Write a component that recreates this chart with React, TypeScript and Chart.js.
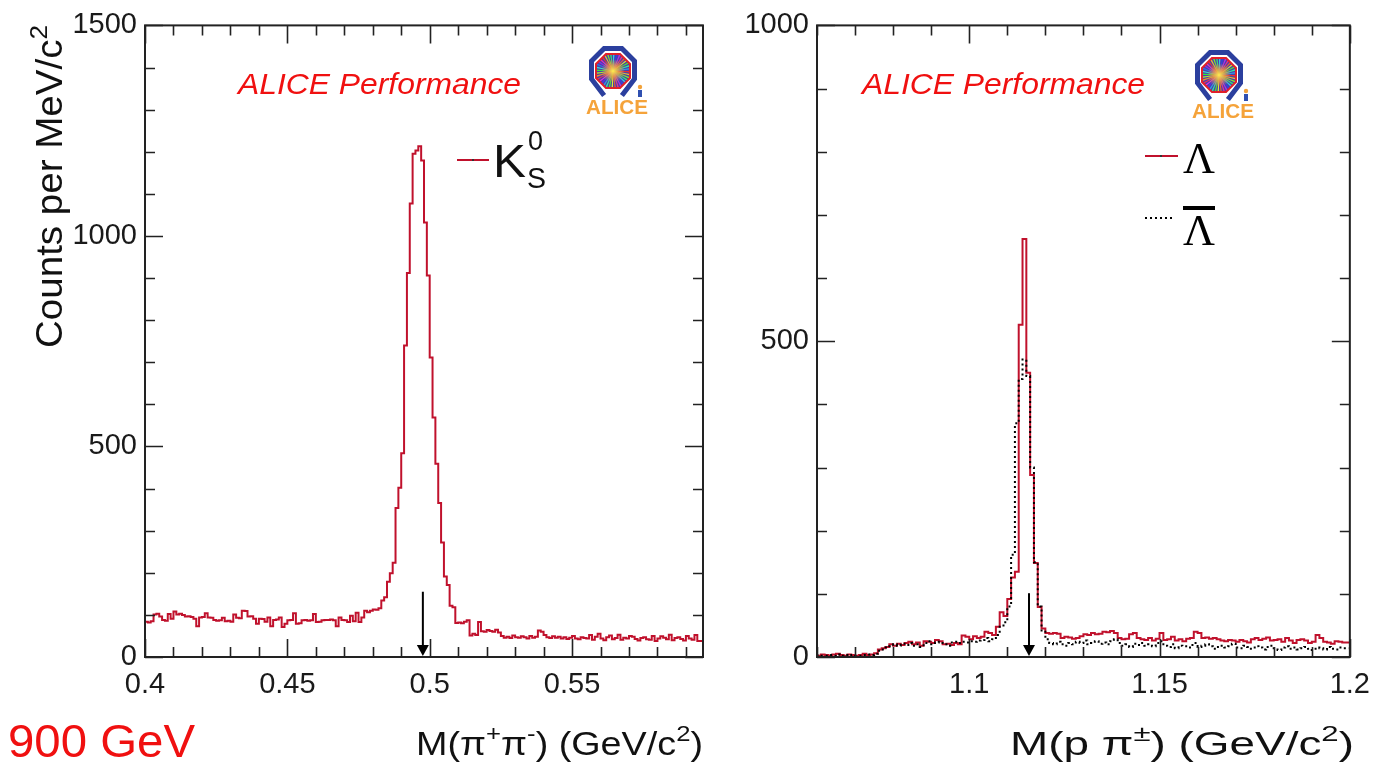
import React, { useEffect, useRef } from 'react';
import { Chart, registerables } from 'chart.js';

Chart.register(...registerables);

// ---------------- DATA ----------------
// K0s: 1 MeV bins from 0.400 to 0.596 GeV/c^2
const K0_BIN_LOW = 0.4;
const K0_BIN_WIDTH = 0.001;
const K0_COUNTS = [
  98, 84, 82, 85, 101, 103, 96, 88, 86, 102,
  91, 108, 101, 103, 100, 96, 97, 95, 91, 73,
  94, 95, 104, 94, 93, 88, 86, 87, 93, 85,
  86, 84, 101, 93, 92, 110, 109, 96, 97, 91,
  79, 91, 90, 84, 94, 73, 88, 89, 94, 71,
  79, 87, 88, 104, 79, 80, 87, 88, 86, 87,
  102, 83, 84, 87, 88, 88, 89, 87, 73, 94,
  88, 87, 83, 98, 85, 105, 83, 94, 110, 106,
  110, 113, 112, 116, 134, 142, 179, 199, 224, 354,
  402, 484, 740, 912, 1077, 1195, 1203, 1213, 1179, 1032,
  906, 711, 569, 459, 366, 272, 191, 171, 122, 118,
  81, 82, 80, 84, 87, 51, 55, 52, 83, 61,
  60, 64, 62, 60, 65, 58, 50, 46, 48, 45,
  51, 47, 46, 49, 47, 44, 50, 46, 48, 63,
  60, 52, 47, 45, 49, 46, 48, 44, 47, 43,
  46, 50, 44, 42, 47, 45, 44, 52, 41, 48,
  55, 44, 40, 47, 51, 42, 45, 53, 41, 46,
  44, 50, 48, 43, 39, 45, 47, 42, 41, 50,
  38, 44, 49, 46, 42, 53, 40, 45, 47, 43,
  39, 50, 44, 41, 52, 38,
];

// Lambda / anti-Lambda: 1 MeV bins from 1.060 to 1.200 GeV/c^2
const LAMBDA_BIN_LOW = 1.06;
const LAMBDA_BIN_WIDTH = 0.001;
const LAMBDA_COUNTS = [
  3, 2, 4, 3, 2, 4, 5, 3, 2, 4,
  3, 2, 3, 5, 3, 4, 6, 12, 14, 16,
  20, 18, 21, 19, 22, 24, 20, 23, 18, 25,
  24, 22, 27, 25, 20, 21, 19, 22, 20, 34,
  32, 28, 33, 30, 32, 40, 38, 35, 48, 71,
  65, 92, 126, 135, 526, 662, 450, 288, 149, 79,
  45, 38, 37, 38, 37, 30, 32, 31, 29, 30,
  33, 36, 35, 38, 36, 37, 40, 39, 41, 38,
  30, 28, 29, 36, 38, 30, 28, 27, 30, 26,
  29, 38, 27, 28, 32, 26, 28, 25, 29, 30,
  40, 38, 30, 31, 29, 30, 28, 26, 25, 27,
  26, 24, 27, 25, 23, 28, 30, 27, 29, 31,
  26, 27, 28, 24, 30, 26, 22, 27, 28, 26,
  22, 24, 35, 30, 24, 23, 21, 25, 24, 23,
];
const ANTILAMBDA_COUNTS = [
  2, 3, 2, 2, 3, 2, 4, 2, 3, 2,
  3, 2, 2, 3, 4, 3, 5, 10, 12, 15,
  17, 20, 18, 21, 19, 22, 18, 20, 16, 22,
  25, 20, 23, 24, 22, 18, 23, 24, 22, 24,
  23, 25, 24, 26, 27, 30, 25, 28, 35, 48,
  55, 80, 162, 370, 440, 471, 445, 300, 150, 80,
  42, 28, 22, 20, 24, 20, 18, 22, 20, 24,
  22, 26, 20, 22, 25, 21, 23, 20, 25, 28,
  22, 18, 20, 16, 21, 19, 22, 18, 20, 17,
  22, 25, 18, 16, 20, 14, 18, 17, 15, 19,
  22, 16, 18, 20, 17, 13, 16, 18, 15, 17,
  21, 15, 14, 18, 16, 13, 17, 15, 12, 16,
  18, 14, 11, 15, 17, 13, 15, 12, 14, 16,
  13, 11, 15, 14, 12, 16, 13, 12, 15, 14,
];

// axes
const K0_X_MIN = 0.4;
const K0_X_MAX = 0.596;
const K0_Y_MAX = 1500;
const K0_X_TICKS = [0.4, 0.45, 0.5, 0.55];
const K0_X_LABELS = ['0.4', '0.45', '0.5', '0.55'];
const K0_Y_TICKS = [0, 500, 1000, 1500];
const K0_Y_LABELS = ['0', '500', '1000', '1500'];

const L_X_MIN = 1.06;
const L_X_MAX = 1.2;
const L_Y_MAX = 1000;
const L_X_TICKS = [1.1, 1.15, 1.2];
const L_X_LABELS = ['1.1', '1.15', '1.2'];
const L_Y_TICKS = [0, 500, 1000];
const L_Y_LABELS = ['0', '500', '1000'];

// PDG masses (arrows) and arrow heights
const K0_PDG_MASS = 0.4976;
const K0_ARROW_TOP = 155;
const LAMBDA_PDG_MASS = 1.1157;
const LAMBDA_ARROW_TOP = 101;

// ---------------- STYLE ----------------
const HIST_RED = '#c0112c';
const TEXT_RED = '#f01010';
const SANS = "'Liberation Sans', Arial, Helvetica, sans-serif";
const SERIF = "'Liberation Serif', 'Times New Roman', serif";
const INK = '#1a1a1a';

type Seg = { t: string; v?: 'sup' | 'sub' };

function segSize(size: number, s: Seg) {
  return s.v ? size * 0.68 : size;
}
function measureRich(ctx: CanvasRenderingContext2D, segs: Seg[], size: number, family: string, style = '') {
  let w = 0;
  for (const s of segs) {
    ctx.font = `${style} ${segSize(size, s)}px ${family}`;
    w += ctx.measureText(s.t).width;
  }
  return w;
}
function drawRich(
  ctx: CanvasRenderingContext2D,
  segs: Seg[],
  x: number,
  y: number,
  size: number,
  family: string,
  color: string,
  targetWidth?: number,
  style = ''
) {
  const w = measureRich(ctx, segs, size, family, style);
  ctx.save();
  ctx.translate(x, y);
  if (targetWidth) ctx.scale(targetWidth / w, 1);
  ctx.fillStyle = color;
  ctx.textBaseline = 'alphabetic';
  ctx.textAlign = 'left';
  let cx = 0;
  for (const s of segs) {
    ctx.font = `${style} ${segSize(size, s)}px ${family}`;
    const dy = s.v === 'sup' ? -size * 0.42 : s.v === 'sub' ? size * 0.2 : 0;
    ctx.fillText(s.t, cx, dy);
    cx += ctx.measureText(s.t).width;
  }
  ctx.restore();
}

function histPoints(lo: number, w: number, counts: number[]) {
  const pts = counts.map((c, i) => ({ x: lo + i * w, y: c }));
  pts.push({ x: lo + counts.length * w, y: counts[counts.length - 1] });
  return pts;
}

function tickList(min: number, max: number, step: number, majorStep: number) {
  const out: { v: number; major: boolean }[] = [];
  const n0 = Math.ceil(min / step - 1e-6);
  const n1 = Math.floor(max / step + 1e-6);
  for (let n = n0; n <= n1; n++) {
    const v = n * step;
    const r = v / majorStep;
    out.push({ v, major: Math.abs(r - Math.round(r)) < 1e-6 });
  }
  return out;
}

function drawFrame(chart: any, xStep: number, xMajor: number, yStep: number, yMajor: number) {
  const { ctx, chartArea: a, scales } = chart;
  const xs = scales.x;
  const ys = scales.y;
  ctx.save();
  ctx.strokeStyle = '#222';
  ctx.lineWidth = 2;
  ctx.strokeRect(a.left, a.top, a.right - a.left, a.bottom - a.top);
  ctx.lineWidth = 1.6;
  ctx.beginPath();
  for (const t of tickList(xs.min, xs.max, xStep, xMajor)) {
    const px = Math.round(xs.getPixelForValue(t.v)) + 0.5;
    const len = t.major ? 18 : 10;
    ctx.moveTo(px, a.bottom);
    ctx.lineTo(px, a.bottom - len);
    ctx.moveTo(px, a.top);
    ctx.lineTo(px, a.top + len);
  }
  for (const t of tickList(ys.min, ys.max, yStep, yMajor)) {
    const py = Math.round(ys.getPixelForValue(t.v)) + 0.5;
    const len = t.major ? 18 : 10;
    ctx.moveTo(a.left, py);
    ctx.lineTo(a.left + len, py);
    ctx.moveTo(a.right, py);
    ctx.lineTo(a.right - len, py);
  }
  ctx.stroke();
  ctx.restore();
}

function drawArrow(chart: any, mass: number, topValue: number) {
  const { ctx, scales } = chart;
  const px = scales.x.getPixelForValue(mass);
  const yTop = scales.y.getPixelForValue(topValue);
  const yBot = scales.y.getPixelForValue(0);
  ctx.save();
  ctx.strokeStyle = '#000';
  ctx.fillStyle = '#000';
  ctx.lineWidth = 2;
  ctx.beginPath();
  ctx.moveTo(px, yTop);
  ctx.lineTo(px, yBot - 10);
  ctx.stroke();
  ctx.beginPath();
  ctx.moveTo(px - 6, yBot - 12);
  ctx.lineTo(px + 6, yBot - 12);
  ctx.lineTo(px, yBot - 1);
  ctx.closePath();
  ctx.fill();
  ctx.restore();
}

function octPath(ctx: CanvasRenderingContext2D, cx: number, cy: number, apothem: number) {
  const r = apothem / Math.cos(Math.PI / 8);
  ctx.beginPath();
  for (let i = 0; i < 8; i++) {
    const ang = Math.PI / 8 + (i * Math.PI) / 4;
    const x = cx + r * Math.cos(ang);
    const y = cy + r * Math.sin(ang);
    if (i === 0) ctx.moveTo(x, y);
    else ctx.lineTo(x, y);
  }
  ctx.closePath();
}

function drawAliceLogo(ctx: CanvasRenderingContext2D, cx: number, cy: number) {
  ctx.save();
  // blue magnet (open at bottom)
  const rb = 21.5 / Math.cos(Math.PI / 8);
  const angs = [67.5, 22.5, -22.5, -67.5, -112.5, -157.5, 157.5, 112.5];
  ctx.beginPath();
  angs.forEach((d, i) => {
    const a = (d * Math.PI) / 180;
    const x = cx + rb * Math.cos(a);
    const y = cy + rb * Math.sin(a) + (i === 0 || i === 7 ? 4 : 0);
    if (i === 0) ctx.moveTo(x, y);
    else ctx.lineTo(x, y);
  });
  ctx.strokeStyle = '#2b3f9e';
  ctx.lineWidth = 5;
  ctx.lineJoin = 'miter';
  ctx.stroke();
  // red detector octagon with rays
  octPath(ctx, cx, cy + 1, 17);
  ctx.save();
  ctx.clip();
  ctx.fillStyle = '#4a3fa8';
  ctx.fill();
  const n = 36;
  for (let i = 0; i < n; i++) {
    const a0 = (i / n) * Math.PI * 2;
    const a1 = ((i + 0.5) / n) * Math.PI * 2;
    ctx.beginPath();
    ctx.moveTo(cx, cy + 1);
    ctx.lineTo(cx + 30 * Math.cos(a0), cy + 1 + 30 * Math.sin(a0));
    ctx.lineTo(cx + 30 * Math.cos(a1), cy + 1 + 30 * Math.sin(a1));
    ctx.closePath();
    ctx.fillStyle = `hsl(${(i * 47) % 360}, 80%, 55%)`;
    ctx.fill();
  }
  const g = ctx.createRadialGradient(cx, cy + 1, 0, cx, cy + 1, 12);
  g.addColorStop(0, 'rgba(255,240,80,1)');
  g.addColorStop(0.5, 'rgba(255,170,60,0.7)');
  g.addColorStop(1, 'rgba(255,170,60,0)');
  ctx.fillStyle = g;
  ctx.fillRect(cx - 20, cy - 19, 40, 40);
  ctx.restore();
  octPath(ctx, cx, cy + 1, 17);
  ctx.strokeStyle = '#e0202a';
  ctx.lineWidth = 2;
  ctx.stroke();
  // small figure
  ctx.fillStyle = '#f2a23a';
  ctx.beginPath();
  ctx.arc(cx + 27, cy + 17, 2.2, 0, Math.PI * 2);
  ctx.fill();
  ctx.fillStyle = '#3050b0';
  ctx.fillRect(cx + 25, cy + 20, 4, 7);
  // ALICE text
  ctx.fillStyle = '#f5a33a';
  ctx.font = `bold 21px ${SANS}`;
  ctx.textAlign = 'left';
  ctx.textBaseline = 'alphabetic';
  const w = ctx.measureText('ALICE').width;
  ctx.save();
  ctx.translate(cx - 27, cy + 44);
  ctx.scale(62 / w, 1);
  ctx.fillText('ALICE', 0, 0);
  ctx.restore();
  ctx.restore();
}

// ---------------- CHART BUILDERS ----------------
function makeScales(
  xMin: number, xMax: number, xTicks: number[], xLabels: string[],
  yMax: number, yTicks: number[], yLabels: string[], yWidth: number, xHeight: number
) {
  const tickFont = { family: SANS, size: 29 };
  return {
    x: {
      type: 'linear',
      min: xMin,
      max: xMax,
      afterBuildTicks: (s: any) => { s.ticks = xTicks.map((v) => ({ value: v })); },
      afterFit: (s: any) => { s.height = xHeight; },
      ticks: {
        autoSkip: false,
        maxRotation: 0,
        padding: 11,
        color: INK,
        font: tickFont,
        callback: (v: number) => { const i = xTicks.findIndex((t) => Math.abs(t - v) < 1e-9); return i >= 0 ? xLabels[i] : ''; },
      },
      grid: { display: false, drawTicks: false },
      border: { display: false },
    },
    y: {
      type: 'linear',
      min: 0,
      max: yMax,
      afterBuildTicks: (s: any) => { s.ticks = yTicks.map((v) => ({ value: v })); },
      afterFit: (s: any) => { s.width = yWidth; },
      ticks: {
        autoSkip: false,
        padding: 8,
        color: INK,
        font: tickFont,
        callback: (v: number) => { const i = yTicks.indexOf(v); return i >= 0 ? yLabels[i] : ''; },
      },
      grid: { display: false, drawTicks: false },
      border: { display: false },
    },
  };
}

function k0Config(): any {
  const OX = 0; // canvas page offset
  const decor = {
    id: 'k0decor',
    afterDraw(chart: any) {
      const ctx = chart.ctx as CanvasRenderingContext2D;
      drawFrame(chart, 0.01, 0.05, 100, 500);
      drawArrow(chart, K0_PDG_MASS, K0_ARROW_TOP);
      // ALICE Performance
      drawRich(ctx, [{ t: 'ALICE Performance' }], 238 - OX, 94, 30, SANS, TEXT_RED, 283, 'italic');
      drawAliceLogo(ctx, 613 - OX, 70);
      // legend K0s
      ctx.save();
      ctx.strokeStyle = HIST_RED;
      ctx.lineWidth = 2;
      ctx.beginPath();
      ctx.moveTo(457 - OX, 160);
      ctx.lineTo(489 - OX, 160);
      ctx.stroke();
      ctx.fillStyle = '#333';
      ctx.fillRect(472 - OX, 159, 2, 2);
      ctx.restore();
      drawRich(ctx, [{ t: 'K' }], 493 - OX, 177, 46, SANS, '#111', 33);
      drawRich(ctx, [{ t: '0' }], 528 - OX, 150, 28, SANS, '#111', 15);
      drawRich(ctx, [{ t: 'S' }], 527 - OX, 188, 29, SANS, '#111', 19);
      // axis titles
      drawRich(
        ctx,
        [{ t: 'M(π' }, { t: '+', v: 'sup' }, { t: 'π' }, { t: '-', v: 'sup' }, { t: ') (GeV/c' }, { t: '2', v: 'sup' }, { t: ')' }],
        416 - OX, 755, 33, SANS, '#111', 287
      );
      ctx.save();
      ctx.translate(62 - OX, 348);
      ctx.rotate(-Math.PI / 2);
      drawRich(ctx, [{ t: 'Counts per MeV/c' }, { t: '2', v: 'sup' }], 0, 0, 36, SANS, '#111', 323);
      ctx.restore();
      // energy label
      drawRich(ctx, [{ t: '900 GeV' }], 8 - OX, 757, 47, SANS, TEXT_RED, 187);
    },
  };
  return {
    type: 'line',
    data: {
      datasets: [
        {
          label: 'K0s',
          data: histPoints(K0_BIN_LOW, K0_BIN_WIDTH, K0_COUNTS),
          borderColor: HIST_RED,
          borderWidth: 2,
          stepped: 'after',
          pointRadius: 0,
          fill: false,
        },
      ],
    },
    options: {
      animation: false,
      responsive: false,
      events: [],
      layout: { padding: { left: 0, right: 17, top: 25, bottom: 0 } },
      plugins: { legend: { display: false }, tooltip: { enabled: false } },
      scales: makeScales(K0_X_MIN, K0_X_MAX, K0_X_TICKS, K0_X_LABELS, K0_Y_MAX, K0_Y_TICKS, K0_Y_LABELS, 145, 108),
    },
    plugins: [decor],
  };
}

function lambdaConfig(): any {
  const OX = 720;
  const decor = {
    id: 'ldecor',
    afterDraw(chart: any) {
      const ctx = chart.ctx as CanvasRenderingContext2D;
      drawFrame(chart, 0.01, 0.05, 100, 500);
      drawArrow(chart, LAMBDA_PDG_MASS, LAMBDA_ARROW_TOP);
      drawRich(ctx, [{ t: 'ALICE Performance' }], 862 - OX, 94, 30, SANS, TEXT_RED, 283, 'italic');
      drawAliceLogo(ctx, 1219 - OX, 74);
      // legend
      ctx.save();
      ctx.strokeStyle = HIST_RED;
      ctx.lineWidth = 2;
      ctx.beginPath();
      ctx.moveTo(1145 - OX, 156);
      ctx.lineTo(1178 - OX, 156);
      ctx.stroke();
      ctx.fillStyle = '#333';
      ctx.fillRect(1160 - OX, 155, 2, 2);
      ctx.strokeStyle = '#000';
      ctx.setLineDash([2, 3]);
      ctx.beginPath();
      ctx.moveTo(1145 - OX, 218);
      ctx.lineTo(1174 - OX, 218);
      ctx.stroke();
      ctx.setLineDash([]);
      ctx.fillStyle = '#000';
      ctx.fillRect(1183 - OX, 206, 32, 4);
      ctx.restore();
      drawRich(ctx, [{ t: 'Λ' }], 1183 - OX, 173, 45, SERIF, '#000', 32);
      drawRich(ctx, [{ t: 'Λ' }], 1183 - OX, 245, 45, SERIF, '#000', 32);
      drawRich(
        ctx,
        [{ t: 'M(p π' }, { t: '±', v: 'sup' }, { t: ') (GeV/c' }, { t: '2', v: 'sup' }, { t: ')' }],
        1010 - OX, 755, 33, SANS, '#111', 344
      );
    },
  };
  return {
    type: 'line',
    data: {
      datasets: [
        {
          label: 'anti-Lambda',
          data: histPoints(LAMBDA_BIN_LOW, LAMBDA_BIN_WIDTH, ANTILAMBDA_COUNTS),
          borderColor: '#000',
          borderWidth: 2,
          borderDash: [2, 3],
          stepped: 'after',
          pointRadius: 0,
          fill: false,
        },
        {
          label: 'Lambda',
          data: histPoints(LAMBDA_BIN_LOW, LAMBDA_BIN_WIDTH, LAMBDA_COUNTS),
          borderColor: HIST_RED,
          borderWidth: 2,
          stepped: 'after',
          pointRadius: 0,
          fill: false,
        },
      ],
    },
    options: {
      animation: false,
      responsive: false,
      events: [],
      layout: { padding: { left: 0, right: 27, top: 25, bottom: 0 } },
      plugins: { legend: { display: false }, tooltip: { enabled: false } },
      scales: makeScales(L_X_MIN, L_X_MAX, L_X_TICKS, L_X_LABELS, L_Y_MAX, L_Y_TICKS, L_Y_LABELS, 97, 108),
    },
    plugins: [decor],
  };
}

export default function App() {
  const refA = useRef<HTMLCanvasElement>(null);
  const refB = useRef<HTMLCanvasElement>(null);
  useEffect(() => {
    const a = new Chart(refA.current as HTMLCanvasElement, k0Config());
    const b = new Chart(refB.current as HTMLCanvasElement, lambdaConfig());
    return () => {
      a.destroy();
      b.destroy();
    };
  }, []);
  return (
    <div style={{ position: 'fixed', left: 0, top: 0, width: 1381, height: 765, background: '#fff', overflow: 'hidden' }}>
      <canvas ref={refA} width={720} height={765} style={{ position: 'absolute', left: 0, top: 0 }} />
      <canvas ref={refB} width={661} height={765} style={{ position: 'absolute', left: 720, top: 0 }} />
    </div>
  );
}
